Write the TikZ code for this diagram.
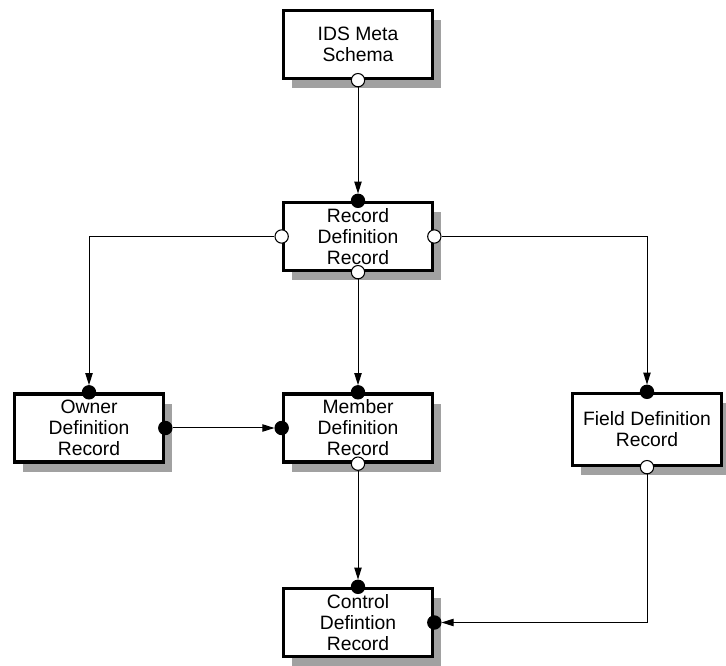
\documentclass[tikz,border=0pt]{standalone}
\usepackage{fontspec}
\setmainfont{Liberation Sans}
\usetikzlibrary{arrows.meta,positioning,shadows}

\begin{document}
\begin{tikzpicture}[x=0.75pt,y=-0.75pt,
    recbox/.style={draw, line width=2.5pt, fill=white, align=center,
      minimum width=112pt, minimum height=51pt, inner sep=2pt,
      font=\fontsize{14.5}{15.8}\selectfont,
      general shadow={fill=black!37, shadow xshift=6.5pt, shadow yshift=-7.5pt}},
    opendot/.style={circle, draw, line width=0.8pt, fill=white,
      minimum size=10pt, inner sep=0pt},
    fulldot/.style={opendot, fill=black},
    link/.style={line width=0.75pt, -{Triangle[length=9pt,width=5.5pt]}}]
    \useasboundingbox (0,0) rectangle (726,666);

    % record boxes
    \node[recbox] (ids) at (358,44.5)  {IDS Meta\\Schema};
    \node[recbox] (rec) at (358,236.5) {Record\\Definition\\Record};
    \node[recbox] (own) at (89,428)    {Owner\\Definition\\Record};
    \node[recbox] (mem) at (358,428)   {Member\\Definition\\Record};
    \node[recbox, minimum height=54pt] (fld) at (647,429.5) {Field Definition\\Record};
    \node[recbox] (ctl) at (358,622.5) {Control\\Defintion\\Record};

    % connection points
    \node[opendot] (ids-s) at (ids.south) {};
    \node[fulldot] (rec-n) at (rec.north) {};
    \node[opendot] (rec-w) at (rec.west)  {};
    \node[opendot] (rec-e) at (rec.east)  {};
    \node[opendot] (rec-s) at (rec.south) {};
    \node[fulldot] (own-n) at (own.north) {};
    \node[fulldot] (own-e) at (own.east)  {};
    \node[fulldot] (mem-n) at (mem.north) {};
    \node[fulldot] (mem-w) at (mem.west)  {};
    \node[opendot] (mem-s) at (mem.south) {};
    \node[fulldot] (fld-n) at (fld.north) {};
    \node[opendot] (fld-s) at (fld.south) {};
    \node[fulldot] (ctl-n) at (ctl.north) {};
    \node[fulldot] (ctl-e) at (ctl.east)  {};

    \draw[link] (ids-s) -- (rec-n);
    \draw[link] (rec-w) -| (own-n);
    \draw[link] (rec-s) -- (mem-n);
    \draw[link] (rec-e) -| (fld-n);
    \draw[link] (own-e) -- (mem-w);
    \draw[link] (mem-s) -- (ctl-n);
    \draw[link] (fld-s) |- (ctl-e);
\end{tikzpicture}
\end{document}
